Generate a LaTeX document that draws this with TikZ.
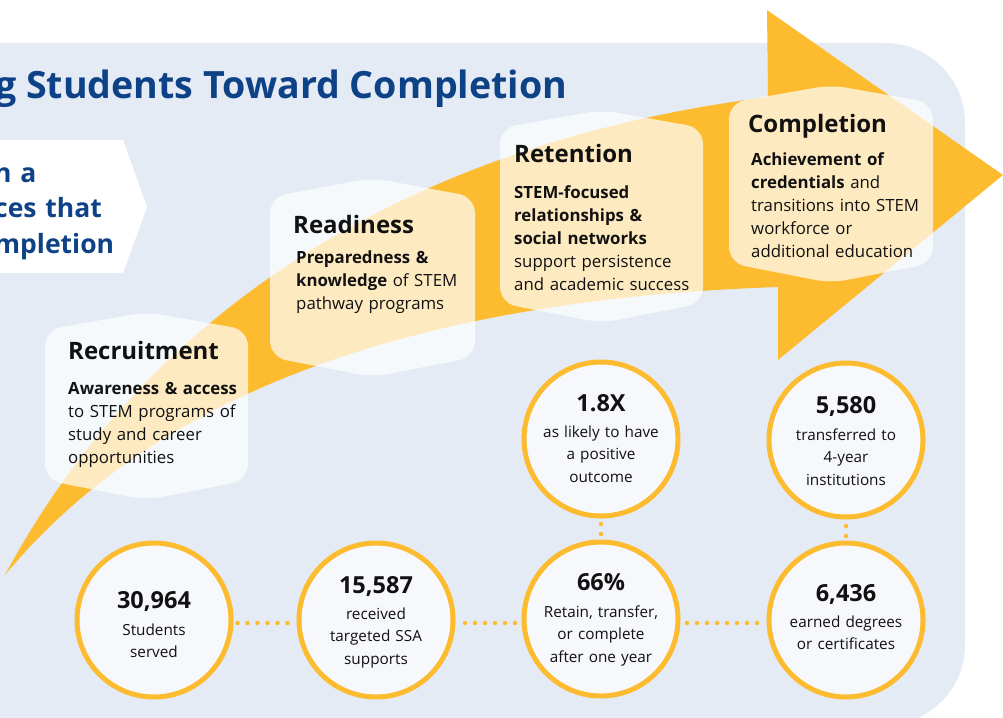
\documentclass[tikz,border=0pt]{standalone}
\usepackage{fontspec}
\setmainfont{Open Sans}
\definecolor{bgblue}{HTML}{E4EBF5}
\definecolor{gold}{HTML}{FDBB30}
\definecolor{titleblue}{HTML}{0E4287}
\definecolor{circfill}{HTML}{F6F8FC}
\definecolor{ink}{HTML}{111111}
\tikzset{
  head/.style={anchor=base west, inner sep=0pt, font=\fontsize{24}{28}\selectfont\bfseries, text=ink},
  bodytext/.style={anchor=base west, inner sep=0pt, text width=230pt, align=left, font=\fontsize{16.8}{23}\selectfont, text=ink},
  stat/.style={circle, draw=gold, line width=5pt, fill=circfill, minimum size=154pt, inner sep=0pt},
  num/.style={anchor=base, inner sep=0pt, font=\fontsize{23.5}{26}\selectfont\bfseries, text=ink},
  stattext/.style={anchor=base, inner sep=0pt, align=center, text width=150pt, font=\fontsize{15.3}{22.5}\selectfont, text=ink},
  dots/.style={draw=gold, line width=4.5pt, line cap=round, dash pattern=on 0pt off 10pt},
  panel/.style={fill=white, fill opacity=0.7, rounded corners=16pt},
}
\newcommand\panelshape[6]{\fill[panel] (#1,#4) -- ({(#1+#2)/2},#3) -- (#2,#4) -- (#2,#5) -- ({(#1+#2)/2},#6) -- (#1,#5) -- cycle;}
\begin{document}
\begin{tikzpicture}[x=1pt,y=-1pt]
\path[use as bounding box] (0,0) rectangle (1003,717);
\clip (0,0) rectangle (1003,717);
% background panel
\fill[bgblue, rounded corners=80pt] (-100,43) rectangle (965,725);
% big arrow
\fill[gold] (5,575) .. controls (120,360) and (350,150) .. (768,97) -- (767,10) -- (1003,175) -- (778,360) -- (778,287) .. controls (400,300) and (150,400) .. (5,575) -- cycle;
% title
\node[anchor=base west, inner sep=0pt, font=\fontsize{37.6}{42}\selectfont\bfseries, text=titleblue] (title) at (-5,98) {g Students Toward Completion};
% intro pentagon
\fill[white] (-10,140) -- (123,140) -- (147,207) -- (123,273) -- (-10,273) -- cycle;
\node[anchor=base west, inner sep=0pt, text width=200pt, align=left, font=\fontsize{26.5}{35.5}\selectfont\bfseries, text=titleblue] (intro) at (-6,182) {n a\\ces that\\mpletion};
% panels
\panelshape{45}{248}{312}{330}{480}{500}
\panelshape{270}{475}{178}{197}{357}{377}
\panelshape{500}{703}{110}{128}{303}{323}
\panelshape{729}{933}{85}{103}{263}{283}
% panel texts
\node[head] (h1) at (68,359) {Recruitment};
\node[bodytext] (b1) at (68,394) {\textbf{Awareness \& access}\\to STEM programs of\\study and career\\opportunities};
\node[head] (h2) at (293,233) {Readiness};
\node[bodytext] (b2) at (296,263) {\textbf{Preparedness \&}\\\textbf{knowledge} of STEM\\pathway programs};
\node[head] (h3) at (514,162) {Retention};
\node[bodytext] (b3) at (514,198) {\textbf{STEM-focused}\\\textbf{relationships \&}\\\textbf{social networks}\\support persistence\\and academic success};
\node[head] (h4) at (748,132) {Completion};
\node[bodytext] (b4) at (751,165) {\textbf{Achievement of}\\\textbf{credentials} and\\transitions into STEM\\workforce or\\additional education};
% stat circles
\node[stat] (c1) at (154,620) {};
\node[stat] (c2) at (376,620) {};
\node[stat] (c3) at (601,619) {};
\node[stat] (c4) at (846,620) {};
\node[stat] (c5) at (601,439) {};
\node[stat] (c6) at (846,440) {};
% connectors
\draw[dots, shorten <=4pt, shorten >=8pt] ([yshift=-3pt]c1.east) -- ([yshift=-3pt]c2.west);
\draw[dots, shorten <=9.5pt, shorten >=6pt] ([yshift=-3pt]c2.east) -- ([yshift=-4pt]c3.west);
\draw[dots, shorten <=6.5pt, shorten >=9pt] ([yshift=-4pt]c3.east) -- ([yshift=-3pt]c4.west);
\draw[dots, shorten <=5.5pt, shorten >=5pt] (c5.south) -- (c3.north);
\draw[dots, shorten <=6.5pt, shorten >=4pt] (c6.south) -- (c4.north);
% stat texts
\node[num] (n1) at (154,608) {30,964};
\node[stattext] (t1) at (154,635) {Students\\served};
\node[num] (n2) at (376,593) {15,587};
\node[stattext] (t2) at (376,619) {received\\targeted SSA\\supports};
\node[num] (n3) at (601,590) {66\%};
\node[stattext] (t3) at (601,617) {Retain, transfer,\\or complete\\after one year};
\node[num] (n4) at (846,601) {6,436};
\node[stattext] (t4) at (846,627) {earned degrees\\or certificates};
\node[num] (n5) at (601,411) {1.8X};
\node[stattext] (t5) at (601,437) {as likely to have\\a positive\\outcome};
\node[num] (n6) at (846,413) {5,580};
\node[stattext] (t6) at (846,440) {transferred to\\4-year\\institutions};
\end{tikzpicture}
\end{document}
